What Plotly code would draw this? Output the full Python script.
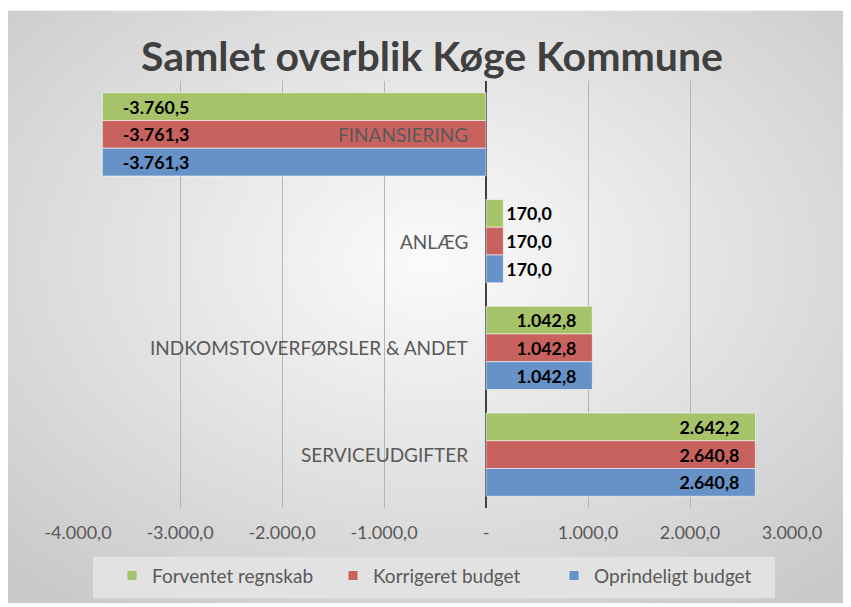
import base64
import plotly.graph_objects as go

categories = ["FINANSIERING", "ANLÆG", "INDKOMSTOVERFØRSLER & ANDET", "SERVICEUDGIFTER"]
series_names = ["Forventet regnskab", "Korrigeret budget", "Oprindeligt budget"]
forventet = [-3760.5, 170.0, 1042.8, 2642.2]
korrigeret = [-3761.3, 170.0, 1042.8, 2640.8]
oprindeligt = [-3761.3, 170.0, 1042.8, 2640.8]
tick_values = [-4000, -3000, -2000, -1000, 0, 1000, 2000, 3000]
tick_labels = ["-4.000,0", "-3.000,0", "-2.000,0", "-1.000,0", "-", "1.000,0", "2.000,0", "3.000,0"]

colors = ["#A6C36A", "#C8625F", "#6692C7"]
FONT = "Lato"
NB = "\u00a0"


def dk(v):
    s = f"{abs(v):,.1f}".replace(",", "X").replace(".", ",").replace("X", ".")
    return ("-" if v < 0 else "") + s


fig = go.Figure()

for name, vals, col in zip(series_names, [forventet, korrigeret, oprindeligt], colors):
    texts, pos = [], []
    for v in vals:
        if abs(v) < 500:
            texts.append(dk(v))
            pos.append("outside")
        elif v < 0:
            texts.append(NB * 4 + dk(v))
            pos.append("inside")
        else:
            texts.append(dk(v) + NB * 3)
            pos.append("inside")
    bold = dict(family=FONT, size=18, color="#000000", weight="bold")
    fig.add_trace(go.Bar(
        y=categories, x=vals, name=name, orientation="h",
        marker=dict(color=col, line=dict(color="rgba(255,255,255,0.55)", width=1)),
        text=texts, textposition=pos, insidetextanchor="end",
        textangle=0, cliponaxis=False,
        textfont=bold, insidetextfont=bold, outsidetextfont=bold,
        showlegend=False, hoverinfo="skip",
    ))
    fig.add_trace(go.Scatter(
        x=[None], y=[None], mode="markers", name=name,
        marker=dict(symbol="square", size=9, color=col),
        showlegend=True,
    ))

# Category labels next to the zero axis
for c in categories:
    fig.add_annotation(x=0, y=c, xref="x", yref="y", text=c, showarrow=False,
                       xanchor="right", yanchor="middle", xshift=-16,
                       font=dict(family=FONT, size=19, color="#595959"))

# Figure sits at page offset (8, 8)
FW, FH = 843, 599
L, R, T, B = 70, 784, 73, 503
def px(xp): return (xp - L) / (R - L)
def py(yp): return (B - yp) / (B - T)

# Background gradient
W, H = FW, FH - 2
svg = (f'<svg xmlns="http://www.w3.org/2000/svg" width="{W}" height="{H}">'
       '<defs><radialGradient id="g" cx="50%" cy="42%" r="72%">'
       '<stop offset="0" stop-color="#fbfbfb"/><stop offset="1" stop-color="#c9c9c9"/>'
       '</radialGradient></defs>'
       f'<rect width="{W}" height="{H}" fill="url(#g)"/></svg>')
src = "data:image/svg+xml;base64," + base64.b64encode(svg.encode()).decode()

fig.add_layout_image(dict(source=src, xref="paper", yref="paper",
                          x=px(0), y=py(2), sizex=px(FW) - px(0), sizey=py(2) - py(FH),
                          xanchor="left", yanchor="top", sizing="stretch", layer="below"))

# Legend box
fig.add_shape(type="rect", xref="paper", yref="paper",
              x0=px(85), x1=px(767), y0=py(552), y1=py(594),
              fillcolor="#e2e2e2", line=dict(width=0), layer="below")

fig.update_layout(
    width=FW, height=FH,
    margin=dict(l=L, r=FW - R, t=T, b=FH - B),
    paper_bgcolor="#ffffff", plot_bgcolor="rgba(0,0,0,0)",
    barmode="group", bargap=0.22, bargroupgap=0,
    title=dict(text="<b>Samlet overblik Køge Kommune</b>", x=(424 / FW), xanchor="center",
               y=1 - 49 / FH, yanchor="middle", yref="container",
               font=dict(family=FONT, size=41, color="#404040")),
    font=dict(family=FONT, color="#595959"),
    xaxis=dict(range=[-4000, 3000], tickvals=tick_values, ticktext=tick_labels,
               showgrid=True, gridcolor="#b4b4b4", gridwidth=1,
               zeroline=True, zerolinecolor="#404040", zerolinewidth=2,
               showline=False, ticks="", ticklabelstandoff=12,
               tickfont=dict(family=FONT, size=18, color="#595959")),
    yaxis=dict(autorange="reversed", showticklabels=False, showgrid=False,
               zeroline=False, showline=False, ticks=""),
    legend=dict(orientation="h", x=px(104), xanchor="left", y=py(571), yanchor="middle",
                bgcolor="rgba(0,0,0,0)", entrywidth=176,
                font=dict(family=FONT, size=19, color="#595959")),
    uniformtext=dict(minsize=8, mode="show"),
)

fig.write_html("out.html")
